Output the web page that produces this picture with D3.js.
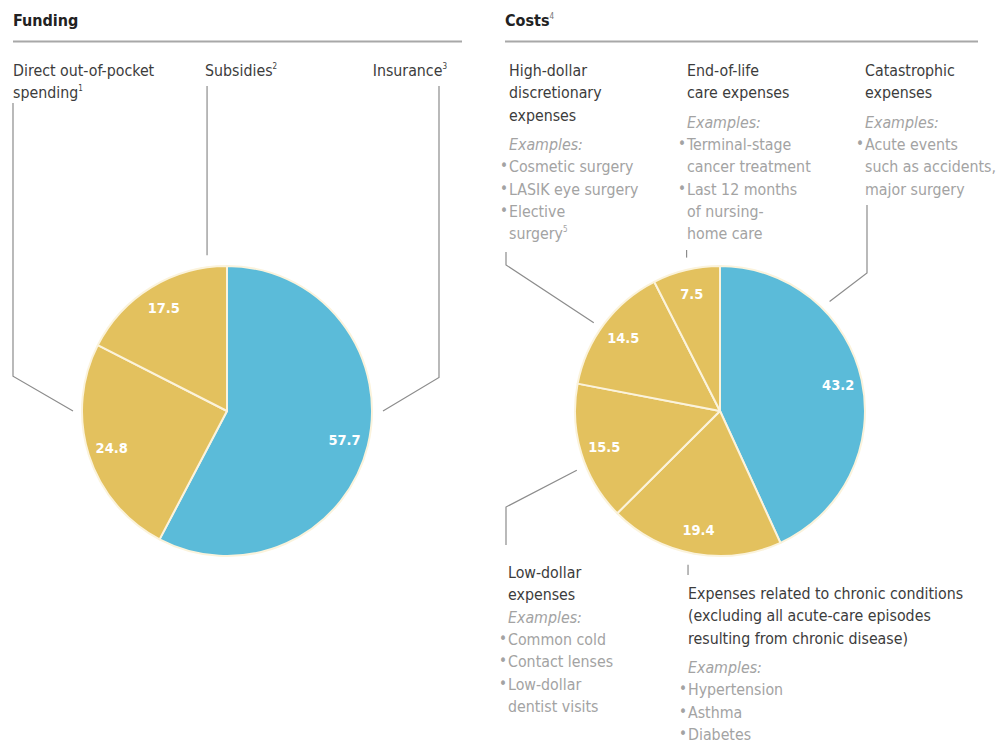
<!DOCTYPE html>
<html>
<head>
<meta charset="utf-8">
<script src="https://cdn.jsdelivr.net/npm/d3@7"></script>
<style>
  body { margin: 0; background: #fff; }
  svg text { font-family: "Liberation Sans Narrow", "DejaVu Sans Condensed", "Roboto", sans-serif; }
</style>
</head>
<body>
<div id="chart"></div>
<script>
// data
const fundingNames = ['Insurance', 'Direct out-of-pocket spending', 'Subsidies'];
const fundingValues = [57.7, 24.8, 17.5];
const costNames = ['Catastrophic', 'Chronic conditions', 'Low-dollar', 'High-dollar discretionary', 'End-of-life care'];
const costValues = [43.2, 19.4, 15.5, 14.5, 7.5];

const BLUE = '#5bbbd9', GOLD = '#e3c15e';
const TXT = '#3c3c3c', LIGHT = '#a3a3a3', LINE = '#8c8c8c';

const width = 1008, height = 743;
const svg = d3.select('#chart').append('svg')
	.attr('width', width)
	.attr('height', height);

const r = 145;
const lineH = 22.3;
const FS = '15.8px';

// headers + rules
function header(x, x2, label, sup) {
	const t = svg.append('text')
		.attr('x', x).attr('y', 26)
		.attr('fill', '#222')
		.style('font-size', '16px')
		.style('font-weight', 'bold')
		.text(label);
	if(sup) t.append('tspan').attr('dy', -7).style('font-size', '8px').style('font-weight', 'normal').attr('fill', '#777').text(sup);
	svg.append('line')
		.attr('x1', x).attr('x2', x2)
		.attr('y1', 41.5).attr('y2', 41.5)
		.attr('stroke', '#a8a8a8')
		.attr('stroke-width', 2);
}
header(13, 462, 'Funding');
header(505, 978, 'Costs', '4');

// text block: lines = [{t, sup, cls}]
function block(x, y, lines, anchor) {
	const g = svg.append('g');
	let yy = y;
	lines.forEach(l => {
		if(l.gap) { yy += l.gap; return; }
		const t = g.append('text')
			.attr('x', x).attr('y', yy)
			.attr('text-anchor', anchor || 'start')
			.style('font-size', FS)
			.attr('fill', l.cls === 'main' ? TXT : LIGHT)
			.style('font-style', l.cls === 'ex' ? 'italic' : 'normal');
		t.append('tspan').text(l.t);
		if(l.sup) t.append('tspan').attr('dy', -7).style('font-size', '8px').text(l.sup);
		if(l.bullet) {
			g.append('text')
				.attr('x', x - 9).attr('y', yy - 1)
				.style('font-size', '15px')
				.attr('fill', LIGHT)
				.text('•');
		}
		yy += lineH;
	});
}

const main = (t, sup) => ({t, sup, cls: 'main'});
const ex = () => ({t: 'Examples:', cls: 'ex'});
const item = (t, bullet, sup) => ({t, bullet, sup, cls: 'item'});

// funding labels
block(13, 76, [main('Direct out-of-pocket'), main('spending', '1')]);
block(205, 76, [main('Subsidies', '2')]);
block(447, 76, [main('Insurance', '3')], 'end');

// cost labels (top)
block(509, 76, [main('High-dollar'), main('discretionary'), main('expenses'), {gap: 7}, ex(),
	item('Cosmetic surgery', true), item('LASIK eye surgery', true), item('Elective', true), item('surgery', false, '5')]);
block(687, 76, [main('End-of-life'), main('care expenses'), {gap: 7}, ex(),
	item('Terminal-stage', true), item('cancer treatment'), item('Last 12 months', true), item('of nursing-'), item('home care')]);
block(865, 76, [main('Catastrophic'), main('expenses'), {gap: 7}, ex(),
	item('Acute events', true), item('such as accidents,'), item('major surgery')]);

// cost labels (bottom)
block(508, 578, [main('Low-dollar'), main('expenses'), ex(),
	item('Common cold', true), item('Contact lenses', true), item('Low-dollar', true), item('dentist visits')]);
block(688, 599, [main('Expenses related to chronic conditions'), main('(excluding all acute-care episodes'),
	main('resulting from chronic disease)'), {gap: 7}, ex(),
	item('Hypertension', true), item('Asthma', true), item('Diabetes', true)]);

// pies
const pie = d3.pie().sort(null).value(d => d);
const arc = d3.arc().innerRadius(0).outerRadius(r);
const labelArc = d3.arc().innerRadius(121).outerRadius(121);

function drawPie(cx, cy, values) {
	const g = svg.append('g').attr('transform', `translate(${cx},${cy})`);
	const arcs = pie(values);
	g.selectAll('path')
		.data(arcs)
		.enter().append('path')
		.attr('d', arc)
		.attr('fill', (d, i) => i === 0 ? BLUE : GOLD)
		.attr('stroke', '#fbf3dc')
		.attr('stroke-width', 2)
		.attr('stroke-linejoin', 'round');
	g.selectAll('text')
		.data(arcs)
		.enter().append('text')
		.attr('transform', d => `translate(${labelArc.centroid(d)})`)
		.attr('text-anchor', 'middle')
		.attr('dy', '0.36em')
		.attr('fill', '#fff')
		.style('font-size', '14.5px')
		.style('font-weight', 'bold')
		.text(d => d3.format('.1f')(d.data));
	return arcs;
}

const fundArcs = drawPie(227, 411, fundingValues);
const costArcs = drawPie(720, 411, costValues);

// leader lines: point on circle at angle (deg) just outside the pie
function edge(cx, cy, deg, rr) {
	const a = deg * Math.PI / 180;
	return [cx + rr * Math.sin(a), cy - rr * Math.cos(a)];
}
const deg = d => (d.startAngle + d.endAngle) / 2 * 180 / Math.PI;

function leader(pts) {
	svg.append('path')
		.attr('d', d3.line()(pts))
		.attr('fill', 'none')
		.attr('stroke', LINE)
		.attr('stroke-width', 1.2);
}

// funding
let p = edge(227, 411, 270, 154);
leader([[13, 103], [13, p[1] - (p[0] - 13) * 0.58], p]);
p = edge(227, 411, 352.7, 157);
leader([[p[0], 86], p]);
p = edge(227, 411, 90, 156);
leader([[439, 86], [439, p[1] - (439 - p[0]) * 0.6], p]);

// costs
p = edge(720, 411, deg(costArcs[3]) - 2, 154);
leader([[506, 252], [506, 265], p]);
p = edge(720, 411, deg(costArcs[4]) + 1.2, 157);
leader([[p[0], 250], p]);
p = edge(720, 411, 45, 155);
leader([[867, 205], [867, 273], p]);
p = edge(720, 411, deg(costArcs[2]) - 5.5, 155);
leader([p, [506, 507], [506, 545]]);
p = edge(720, 411, deg(costArcs[1]) + 1.5, 157);
leader([p, [p[0], 575]]);
</script>
</body>
</html>
